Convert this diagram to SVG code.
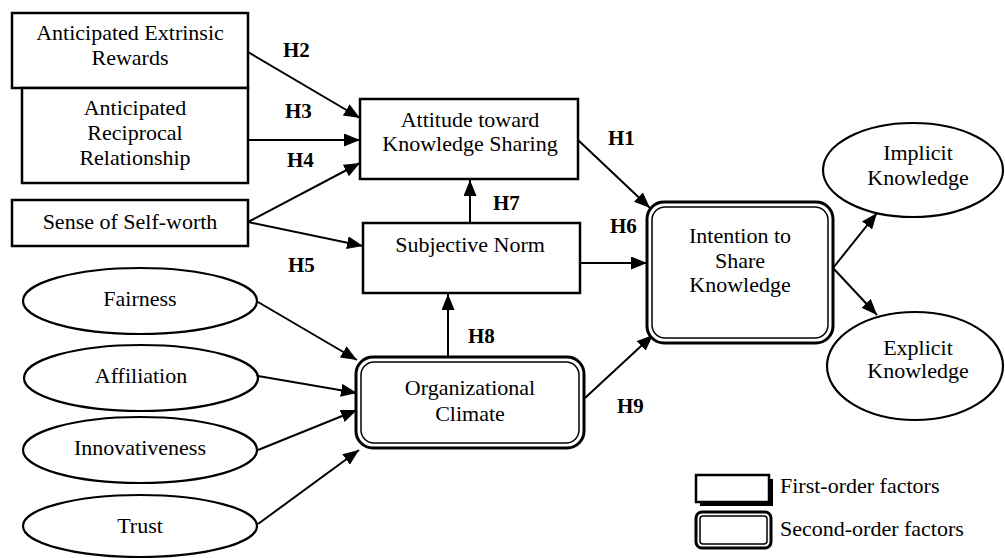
<svg xmlns="http://www.w3.org/2000/svg" width="1005" height="558" viewBox="0 0 1005 558">
<style>
.box{fill:#fff;stroke:#000;stroke-width:2.5}
.ell{fill:#fff;stroke:#000;stroke-width:2.2}
.outer{fill:#fff;stroke:#000;stroke-width:3}
.inner{fill:none;stroke:#000;stroke-width:1.5}
.t{font-family:"Liberation Serif","Times New Roman",serif;font-size:22px;fill:#000;text-anchor:middle}
.h{font-family:"Liberation Serif","Times New Roman",serif;font-size:21px;font-weight:bold;fill:#000}
.lg{font-family:"Liberation Serif","Times New Roman",serif;font-size:22px;fill:#000}
.c{stroke:#000;stroke-width:2;fill:none;marker-end:url(#ah)}
</style>
<defs>
<marker id="ah" markerUnits="userSpaceOnUse" markerWidth="17" markerHeight="13" refX="16" refY="6.5" orient="auto">
<path d="M0,0 L16,6.5 L0,13 z" fill="#000"/>
</marker>
</defs>
<rect width="1005" height="558" fill="#fff"/>

<g id="connectors">
<line class="c" x1="248" y1="52" x2="360" y2="118"/>
<line class="c" x1="248" y1="140" x2="360" y2="140"/>
<line class="c" x1="248" y1="222" x2="360" y2="163"/>
<line class="c" x1="248" y1="222" x2="363" y2="246"/>
<line class="c" x1="578" y1="140" x2="650" y2="208"/>
<line class="c" x1="470" y1="223" x2="470" y2="180"/>
<line class="c" x1="580" y1="263" x2="647" y2="263"/>
<line class="c" x1="448" y1="357" x2="448" y2="294"/>
<line class="c" x1="585" y1="398" x2="653" y2="335"/>
<line class="c" x1="833" y1="268" x2="877" y2="213"/>
<line class="c" x1="833" y1="268" x2="877" y2="315"/>
<line class="c" x1="258" y1="302" x2="357" y2="360"/>
<line class="c" x1="258" y1="376" x2="357" y2="393"/>
<line class="c" x1="258" y1="450" x2="357" y2="410"/>
<line class="c" x1="258" y1="524" x2="359" y2="450"/>
<text class="h" x="283" y="57">H2</text>
<text class="h" x="285" y="118">H3</text>
<text class="h" x="287" y="167">H4</text>
<text class="h" x="288" y="272">H5</text>
<text class="h" x="608" y="145">H1</text>
<text class="h" x="493" y="210">H7</text>
<text class="h" x="610" y="233">H6</text>
<text class="h" x="468" y="343">H8</text>
<text class="h" x="617" y="413">H9</text>
</g>

<g id="extrinsic">
<rect class="box" x="12" y="13" width="236" height="75"/>
<text class="t" x="130" y="40">Anticipated Extrinsic</text>
<text class="t" x="130" y="65">Rewards</text>
</g>
<g id="reciprocal">
<rect class="box" x="22" y="88" width="226" height="95"/>
<text class="t" x="135" y="115">Anticipated</text>
<text class="t" x="135" y="140">Reciprocal</text>
<text class="t" x="135" y="165">Relationship</text>
</g>
<g id="selfworth">
<rect class="box" x="12" y="200" width="236" height="46"/>
<text class="t" x="130" y="229">Sense of Self-worth</text>
</g>
<g id="attitude">
<rect class="box" x="360" y="99" width="218" height="80"/>
<text class="t" x="470" y="127">Attitude toward</text>
<text class="t" x="470" y="151">Knowledge Sharing</text>
</g>
<g id="subjective">
<rect class="box" x="363" y="223" width="217" height="70"/>
<text class="t" x="470" y="252">Subjective Norm</text>
</g>
<g id="intention">
<rect class="outer" x="647" y="202" width="186" height="141" rx="17"/>
<rect class="inner" x="652" y="207" width="176" height="131" rx="13"/>
<text class="t" x="740" y="243">Intention to</text>
<text class="t" x="740" y="268">Share</text>
<text class="t" x="740" y="292">Knowledge</text>
</g>
<g id="climate">
<rect class="outer" x="356" y="357" width="228" height="91" rx="17"/>
<rect class="inner" x="361" y="362" width="218" height="81" rx="13"/>
<text class="t" x="470" y="395">Organizational</text>
<text class="t" x="470" y="421">Climate</text>
</g>
<g id="implicit">
<ellipse class="ell" cx="913" cy="170" rx="90" ry="47"/>
<text class="t" x="918" y="160">Implicit</text>
<text class="t" x="918" y="185">Knowledge</text>
</g>
<g id="explicit">
<ellipse class="ell" cx="915" cy="366" rx="88" ry="54"/>
<text class="t" x="918" y="355">Explicit</text>
<text class="t" x="918" y="378">Knowledge</text>
</g>
<g id="fairness">
<ellipse class="ell" cx="140" cy="301" rx="117" ry="33"/>
<text class="t" x="140" y="306">Fairness</text>
</g>
<g id="affiliation">
<ellipse class="ell" cx="141" cy="378" rx="117" ry="33"/>
<text class="t" x="141" y="383">Affiliation</text>
</g>
<g id="innovativeness">
<ellipse class="ell" cx="140" cy="450" rx="117" ry="33"/>
<text class="t" x="140" y="455">Innovativeness</text>
</g>
<g id="trust">
<ellipse class="ell" cx="140" cy="526" rx="117" ry="31"/>
<text class="t" x="140" y="533">Trust</text>
</g>

<g id="legend">
<rect x="700" y="479" width="73" height="27" fill="#000"/>
<rect class="box" x="696" y="475" width="73" height="27"/>
<text class="lg" x="780" y="493">First-order factors</text>
<rect class="outer" x="696" y="512" width="75" height="36" rx="6"/>
<rect class="inner" x="700" y="516" width="67" height="28" rx="3"/>
<text class="lg" x="780" y="536">Second-order factors</text>
</g>
</svg>
